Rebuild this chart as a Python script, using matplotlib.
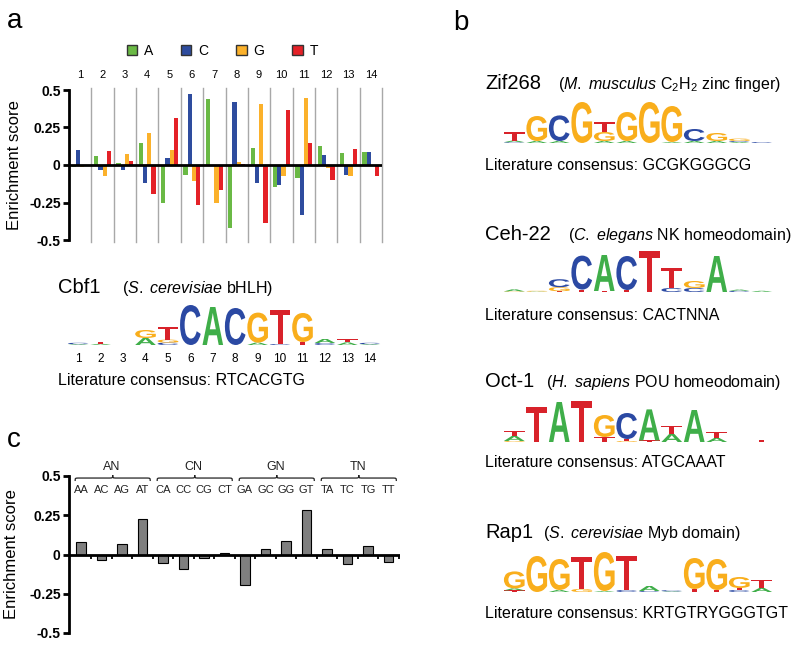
import numpy as np
import matplotlib
matplotlib.use("Agg")
import matplotlib.pyplot as plt
from matplotlib.patches import PathPatch, Patch
from matplotlib.path import Path
from matplotlib.textpath import TextPath
from matplotlib.font_manager import FontProperties
from matplotlib.transforms import Affine2D

plt.rcParams['font.family'] = ['Liberation Sans', 'DejaVu Sans']
plt.rcParams['mathtext.fontset'] = 'custom'
plt.rcParams['mathtext.rm'] = 'Liberation Sans'
plt.rcParams['mathtext.it'] = 'Liberation Sans:italic'
plt.rcParams['mathtext.bf'] = 'Liberation Sans:bold'

W, H = 800, 646

# ---- panel a: per-position enrichment scores (Cbf1) ----
positions = list(range(1, 15))
bases = ['A', 'C', 'G', 'T']
score_A = [-0.012, 0.058, 0.015, 0.149, -0.256, -0.067, 0.442, -0.418, 0.113, -0.147, -0.084, 0.127, 0.082, 0.087]
score_C = [0.100, -0.035, -0.030, -0.118, 0.049, 0.471, 0.0, 0.418, -0.118, -0.131, -0.336, 0.067, -0.067, 0.087]
score_G = [-0.015, -0.073, 0.071, 0.216, 0.102, -0.107, -0.256, 0.022, 0.409, -0.073, 0.447, -0.020, -0.073, 0.0]
score_T = [0.0, 0.091, 0.025, -0.191, 0.311, -0.269, -0.164, 0.010, -0.389, 0.367, 0.149, -0.100, 0.104, -0.073]

# ---- panel c: dinucleotide enrichment ----
dinucs = ['AA', 'AC', 'AG', 'AT', 'CA', 'CC', 'CG', 'CT',
          'GA', 'GC', 'GG', 'GT', 'TA', 'TC', 'TG', 'TT']
dinuc_groups = ['AN', 'CN', 'GN', 'TN']
dinuc_score = [0.080, -0.032, 0.064, 0.229, -0.057, -0.095, -0.021, 0.010,
               -0.193, 0.034, 0.085, 0.282, 0.038, -0.061, 0.051, -0.049]

# ---- sequence logos: columns of (letter, bits), bottom to top ----
cbf1_logo = [
    [('A', 0.04), ('C', 0.07)],
    [('A', 0.06), ('T', 0.10)],
    [],
    [('A', 0.35), ('G', 0.40)],
    [('C', 0.12), ('G', 0.15), ('T', 0.65)],
    [('C', 2.00)],
    [('A', 1.90)],
    [('C', 1.85)],
    [('A', 0.12), ('G', 1.50)],
    [('C', 0.05), ('T', 1.72)],
    [('T', 0.15), ('G', 1.45)],
    [('C', 0.10), ('A', 0.20)],
    [('A', 0.13), ('T', 0.17)],
    [('A', 0.04), ('C', 0.07)],
]
zif268_logo = [
    [('C', 0.04), ('A', 0.08), ('T', 0.42)],
    [('A', 0.10), ('G', 1.25)],
    [('A', 0.10), ('C', 1.28)],
    [('G', 2.05)],
    [('A', 0.10), ('G', 0.45), ('T', 0.50)],
    [('A', 0.10), ('G', 1.45)],
    [('G', 2.05)],
    [('A', 0.05), ('G', 1.80)],
    [('A', 0.10), ('C', 0.60)],
    [('A', 0.10), ('G', 0.40)],
    [('A', 0.05), ('C', 0.05), ('G', 0.12)],
    [('C', 0.05)],
]
ceh22_logo = [
    [('G', 0.03), ('A', 0.10)],
    [('A', 0.02), ('G', 0.04)],
    [('T', 0.04), ('G', 0.20), ('C', 0.40)],
    [('T', 0.12), ('C', 1.70)],
    [('T', 0.05), ('A', 1.80)],
    [('T', 0.10), ('C', 1.70)],
    [('T', 2.05)],
    [('C', 0.20), ('T', 1.00)],
    [('C', 0.20), ('G', 0.35)],
    [('A', 1.80)],
    [('C', 0.06), ('A', 0.06)],
    [('A', 0.06)],
]
oct1_logo = [
    [('G', 0.05), ('A', 0.25), ('T', 0.25)],
    [('T', 1.75)],
    [('A', 2.00)],
    [('T', 2.05)],
    [('T', 0.25), ('G', 1.10)],
    [('G', 0.05), ('T', 0.10), ('C', 1.30)],
    [('T', 0.08), ('A', 1.55)],
    [('A', 0.40), ('T', 0.40)],
    [('A', 1.60)],
    [('A', 0.20), ('T', 0.30)],
    [],
    [('T', 0.10)],
]
rap1_logo = [
    [('T', 0.08), ('A', 0.10), ('G', 0.85)],
    [('G', 1.80)],
    [('A', 0.10), ('G', 1.55)],
    [('G', 0.15), ('T', 1.60)],
    [('A', 0.05), ('G', 1.95)],
    [('C', 0.10), ('T', 1.70)],
    [('C', 0.05), ('A', 0.25)],
    [('A', 0.03), ('C', 0.06)],
    [('T', 0.15), ('G', 1.55)],
    [('T', 0.10), ('G', 1.55)],
    [('C', 0.10), ('T', 0.10), ('G', 0.55)],
    [('A', 0.20), ('T', 0.40)],
]

bar_colors = {'A': '#6ab945', 'C': '#2e4c9e', 'G': '#fbb12b', 'T': '#e42127'}
logo_colors = {'A': '#3fae49', 'C': '#2b49a3', 'G': '#f9ae1c', 'T': '#d8222a'}
letter_font = FontProperties(family='Liberation Sans', weight='bold')

fig = plt.figure(figsize=(W / 100, H / 100), dpi=100)


def px_axes(x0, y0, x1, y1):
    # pixel box (top-left origin) -> figure axes
    return fig.add_axes([x0 / W, 1 - y1 / H, (x1 - x0) / W, (y1 - y0) / H])


def ftext(x, y, s, **kw):
    kw.setdefault('va', 'baseline')
    return fig.text(x / W, 1 - y / H, s, **kw)


def draw_letter(ax, letter, x, y, h, width=0.92):
    tp = TextPath((0, 0), letter, size=1, prop=letter_font)
    bb = tp.get_extents()
    tr = (Affine2D().translate(-bb.x0, -bb.y0)
          .scale(width / bb.width, h / bb.height)
          .translate(x - width / 2, y))
    ax.add_patch(PathPatch(tr.transform_path(tp), facecolor=logo_colors[letter],
                           edgecolor='none'))


def draw_logo(ax, columns):
    for i, col in enumerate(columns, start=1):
        y = 0
        for letter, h in col:
            draw_letter(ax, letter, i, y, h)
            y += h
    ax.set_xlim(0.5, len(columns) + 0.5)
    ax.set_ylim(0, 2.1)
    for s in ax.spines.values():
        s.set_visible(False)
    ax.set_yticks([])


def style_score_axis(ax):
    for s in ['top', 'right', 'bottom']:
        ax.spines[s].set_visible(False)
    ax.spines['left'].set_linewidth(2)
    ax.set_ylim(-0.5, 0.5)
    ax.set_yticks([-0.5, -0.25, 0, 0.25, 0.5])
    ax.set_yticklabels(['-0.5', '-0.25', '0', '0.25', '0.5'], fontweight='bold', fontsize=10)
    ax.tick_params(axis='y', width=2, length=4, pad=2)
    ax.axhline(0, color='black', lw=2, zorder=4)
    ax.set_ylabel('Enrichment score', fontsize=12)
    ax.yaxis.set_label_coords(-0.15, 0.5)


# ---------------- panel a ----------------
ftext(7, 28, 'a', fontsize=20)
axa = px_axes(69, 90, 382, 240)
bw = 0.19
pos = np.array(positions)
for k, (b, vals) in enumerate(zip(bases, [score_A, score_C, score_G, score_T])):
    axa.bar(pos + (k - 1.5) * bw, vals, bw, color=bar_colors[b], linewidth=0, zorder=3)
for sep in pos + 0.5:
    axa.plot([sep, sep], [-0.513, 0.513], color='#a8a8a8', lw=1, clip_on=False, zorder=1)
axa.set_xlim(0.5, 14.5)
style_score_axis(axa)
axa.xaxis.tick_top()
axa.set_xticks(positions)
axa.set_xticklabels([str(p) for p in positions], fontsize=8)
axa.tick_params(axis='x', length=0, pad=7)

handles = [Patch(facecolor=bar_colors[b], edgecolor='#333333', lw=1) for b in bases]
axa.legend(handles, bases, ncol=4, loc='center', bbox_to_anchor=(0.49, 1.26),
           frameon=False, fontsize=10, handlelength=0.75, handleheight=0.75,
           handletextpad=0.5, columnspacing=2.0, borderaxespad=0)

# Cbf1 logo
ftext(58, 293, 'Cbf1', fontsize=14.5)
ftext(122, 293, r'($\mathit{S.}$ $\mathit{cerevisiae}$ bHLH)', fontsize=11.5)
axl = px_axes(67, 303, 381, 345)
draw_logo(axl, cbf1_logo)
axl.set_xticks(range(1, len(cbf1_logo) + 1))
axl.set_xticklabels([str(i) for i in range(1, len(cbf1_logo) + 1)], fontsize=8.5)
axl.tick_params(axis='x', length=0, pad=6)
ftext(58, 385, 'Literature consensus: RTCACGTG', fontsize=11.5)

# ---------------- panel c ----------------
ftext(7, 447, 'c', fontsize=20)
axc = px_axes(69, 476, 400, 633)
xd = np.arange(len(dinucs))
axc.bar(xd, dinuc_score, 0.45, color='#7f7f7f', edgecolor='black', linewidth=0.8, zorder=3)
axc.set_xlim(-0.58, 15.56)
style_score_axis(axc)
axc.set_xticks([])
axc.vlines(xd + 0.5, -0.028, 0, color='black', lw=1.3, zorder=4)
for i, lab in enumerate(dinucs):
    axc.text(i, 0.41, lab, ha='center', va='center', fontsize=8, color='#222222')

yb, yt = 0.468, 0.506
ym = (yb + yt) / 2
q = 0.2
for g, lab in enumerate(dinuc_groups):
    xm = 4 * g + 1.55
    x0, x1 = xm - 1.83, xm + 1.83
    verts = [(x0, yb), (x0, ym), (x0, ym), (x0 + q, ym),
             (xm - q, ym),
             (xm, ym), (xm, ym), (xm, yt),
             (xm, ym), (xm, ym), (xm + q, ym),
             (x1 - q, ym),
             (x1, ym), (x1, ym), (x1, yb)]
    codes = [Path.MOVETO, Path.CURVE4, Path.CURVE4, Path.CURVE4,
             Path.LINETO,
             Path.CURVE4, Path.CURVE4, Path.CURVE4,
             Path.CURVE4, Path.CURVE4, Path.CURVE4,
             Path.LINETO,
             Path.CURVE4, Path.CURVE4, Path.CURVE4]
    axc.add_patch(PathPatch(Path(verts, codes), facecolor='none', edgecolor='#222222',
                            lw=0.9, clip_on=False))
    axc.text(4 * g + 1.5, 0.557, lab, ha='center', va='center', fontsize=9, color='#222222')

# ---------------- panel b ----------------
ftext(453, 30, 'b', fontsize=20)
b_panels = [
    ('Zif268', 558, r'($\mathit{M.}$ $\mathit{musculus}$ C$_2$H$_2$ zinc finger)', zif268_logo, 143, 89, 170,
     'Literature consensus: GCGKGGGCG'),
    ('Ceh-22', 568, r'($\mathit{C.}$ $\mathit{elegans}$ NK homeodomain)', ceh22_logo, 292, 240, 320,
     'Literature consensus: CACTNNA'),
    ('Oct-1', 546, r'($\mathit{H.}$ $\mathit{sapiens}$ POU homeodomain)', oct1_logo, 442, 387, 467,
     'Literature consensus: ATGCAAAT'),
    ('Rap1', 543, r'($\mathit{S.}$ $\mathit{cerevisiae}$ Myb domain)', rap1_logo, 592, 538, 618,
     'Literature consensus: KRTGTRYGGGTGT'),
]
for name, sub_x, sub, logo, base_y, title_y, cons_y, cons in b_panels:
    ftext(485, title_y, name, fontsize=14.5)
    ftext(sub_x, title_y, sub, fontsize=11.5)
    axb = px_axes(503, base_y - 42, 773, base_y)
    draw_logo(axb, logo)
    axb.set_xticks([])
    ftext(485, cons_y, cons, fontsize=11.5)

fig.savefig('out.png', dpi=100)
